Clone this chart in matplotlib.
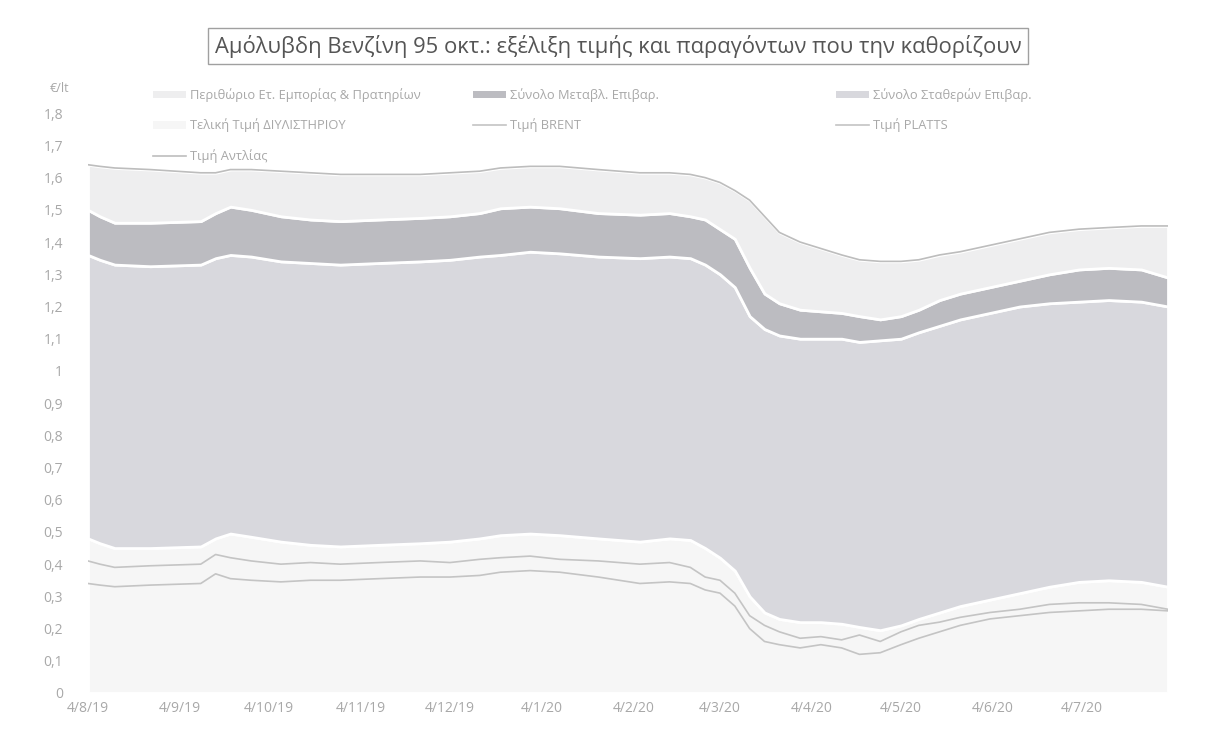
import matplotlib
matplotlib.use("Agg")
import matplotlib.pyplot as plt
from matplotlib.lines import Line2D
from matplotlib.patches import Patch
import numpy as np
import pandas as pd

# ---------------- data (€/lt) ----------------
dates = pd.to_datetime([
    "2019-08-04", "2019-08-08", "2019-08-13", "2019-08-25", "2019-09-11", "2019-09-16",
    "2019-09-21", "2019-09-28", "2019-10-08", "2019-10-18", "2019-10-28", "2019-11-10",
    "2019-11-24", "2019-12-04", "2019-12-14", "2019-12-21", "2019-12-31", "2020-01-10",
    "2020-01-23", "2020-02-06", "2020-02-16", "2020-02-23", "2020-02-28", "2020-03-04",
    "2020-03-09", "2020-03-14", "2020-03-19", "2020-03-24", "2020-03-31", "2020-04-07",
    "2020-04-14", "2020-04-20", "2020-04-27", "2020-05-04", "2020-05-10", "2020-05-17",
    "2020-05-24", "2020-06-03", "2020-06-13", "2020-06-23", "2020-07-03", "2020-07-13",
    "2020-07-24", "2020-08-02",
])

# Τιμή Αντλίας (pump price, top of the stack)
pump_price = [1.64, 1.635, 1.63, 1.625, 1.615, 1.615, 1.625, 1.625, 1.62, 1.615, 1.61, 1.61,
              1.61, 1.615, 1.62, 1.63, 1.635, 1.635, 1.625, 1.615, 1.615, 1.61, 1.60, 1.585,
              1.56, 1.53, 1.48, 1.43, 1.40, 1.38, 1.36, 1.345, 1.34, 1.34, 1.345, 1.36,
              1.37, 1.39, 1.41, 1.43, 1.44, 1.445, 1.45, 1.45]
# cumulative level up to Σύνολο Μεταβλ. Επιβαρ.
level_variable = [1.50, 1.48, 1.46, 1.46, 1.465, 1.49, 1.51, 1.50, 1.48, 1.47, 1.465, 1.47,
                  1.475, 1.48, 1.49, 1.505, 1.51, 1.505, 1.49, 1.485, 1.49, 1.48, 1.47, 1.44,
                  1.41, 1.32, 1.24, 1.21, 1.19, 1.185, 1.18, 1.17, 1.16, 1.17, 1.19, 1.22,
                  1.24, 1.26, 1.28, 1.30, 1.315, 1.32, 1.315, 1.29]
# cumulative level up to Σύνολο Σταθερών Επιβαρ.
level_fixed = [1.36, 1.345, 1.33, 1.325, 1.33, 1.35, 1.36, 1.355, 1.34, 1.335, 1.33, 1.335,
               1.34, 1.345, 1.355, 1.36, 1.37, 1.365, 1.355, 1.35, 1.355, 1.35, 1.33, 1.30,
               1.26, 1.17, 1.13, 1.11, 1.10, 1.10, 1.10, 1.09, 1.095, 1.10, 1.12, 1.14,
               1.16, 1.18, 1.20, 1.21, 1.215, 1.22, 1.215, 1.20]
# Τελική Τιμή ΔΙΥΛΙΣΤΗΡΙΟΥ (refinery price, bottom of the stack)
refinery_price = [0.48, 0.465, 0.45, 0.45, 0.455, 0.48, 0.495, 0.485, 0.47, 0.46, 0.455, 0.46,
                  0.465, 0.47, 0.48, 0.49, 0.495, 0.49, 0.48, 0.47, 0.48, 0.475, 0.45, 0.42,
                  0.38, 0.30, 0.25, 0.23, 0.22, 0.22, 0.215, 0.205, 0.195, 0.21, 0.23, 0.25,
                  0.27, 0.29, 0.31, 0.33, 0.345, 0.35, 0.345, 0.33]
platts_price = [0.41, 0.40, 0.39, 0.395, 0.40, 0.43, 0.42, 0.41, 0.40, 0.405, 0.40, 0.405,
                0.41, 0.405, 0.415, 0.42, 0.425, 0.415, 0.41, 0.40, 0.405, 0.39, 0.36, 0.35,
                0.31, 0.24, 0.21, 0.19, 0.17, 0.175, 0.165, 0.18, 0.16, 0.19, 0.21, 0.22,
                0.235, 0.25, 0.26, 0.275, 0.28, 0.28, 0.275, 0.26]
brent_price = [0.34, 0.335, 0.33, 0.335, 0.34, 0.37, 0.355, 0.35, 0.345, 0.35, 0.35, 0.355,
               0.36, 0.36, 0.365, 0.375, 0.38, 0.375, 0.36, 0.34, 0.345, 0.34, 0.32, 0.31,
               0.27, 0.20, 0.16, 0.15, 0.14, 0.15, 0.14, 0.12, 0.125, 0.15, 0.17, 0.19,
               0.21, 0.23, 0.24, 0.25, 0.255, 0.26, 0.26, 0.255]

title = "Αμόλυβδη Βενζίνη 95 οκτ.: εξέλιξη τιμής και παραγόντων που την καθορίζουν"
lbl_margin = "Περιθώριο Ετ. Εμπορίας & Πρατηρίων"
lbl_var = "Σύνολο Μεταβλ. Επιβαρ."
lbl_fixed = "Σύνολο Σταθερών Επιβαρ."
lbl_ref = "Τελική Τιμή ΔΙΥΛΙΣΤΗΡΙΟΥ"
lbl_brent = "Τιμή BRENT"
lbl_platts = "Τιμή PLATTS"
lbl_pump = "Τιμή Αντλίας"
y_ticks = [round(0.1 * i, 1) for i in range(19)]
tick_dates = pd.date_range("2019-08-01", "2020-07-01", freq="MS") + pd.Timedelta(days=3)

# ---------------- styling ----------------
plt.rcParams["font.family"] = ["Open Sans", "DejaVu Sans"]
C_MARGIN = "#eeeeef"
C_VAR = "#bcbcc1"
C_FIXED = "#d8d8dd"
C_REF = "#f6f6f6"
C_LINE = "#c4c4c4"
C_TXT = "#a8a8a8"

fig = plt.figure(figsize=(12.05, 7.36), dpi=100)
ax = fig.add_axes([88 / 1205, 1 - 693 / 736, (1168 - 88) / 1205, (693 - 81) / 736])

ref = np.array(refinery_price)
fixed = np.array(level_fixed) - ref
var = np.array(level_variable) - np.array(level_fixed)
margin = np.array(pump_price) - np.array(level_variable)

ax.stackplot(dates, ref, fixed, var, margin,
             colors=[C_REF, C_FIXED, C_VAR, C_MARGIN],
             edgecolor="white", linewidth=2.0)
ax.plot(dates, platts_price, color=C_LINE, lw=1.2)
ax.plot(dates, brent_price, color=C_LINE, lw=1.2)
ax.plot(dates, pump_price, color="#bdbdbd", lw=1.2)

ax.set_xlim(pd.Timestamp("2019-08-04"), pd.Timestamp("2020-08-02"))
ax.set_ylim(0, 1.9)
ax.set_yticks(y_ticks)
ax.set_yticklabels([("%g" % v).replace(".", ",") for v in y_ticks])
ax.set_xticks(tick_dates)
ax.set_xticklabels([f"{d.day}/{d.month}/{d.year % 100}" for d in tick_dates])
ax.tick_params(axis="both", length=0, labelsize=10, colors=C_TXT)
ax.tick_params(axis="y", pad=18)
ax.tick_params(axis="x", pad=6)
for s in ax.spines.values():
    s.set_visible(False)

fig.text(50 / 1205, 1 - 88 / 736, "€/lt", fontsize=9, color=C_TXT, va="center")

fig.text(618 / 1205, 1 - 46 / 736, title, fontsize=15.8, color="#555555",
         ha="center", va="center",
         bbox=dict(boxstyle="square,pad=0.3", fc="white", ec="#a0a0a0", lw=1))

# legends (three columns placed like the original)
cols = [
    ([Patch(fc=C_MARGIN, ec="none"), Patch(fc=C_REF, ec="none"),
      Line2D([], [], color="#bdbdbd", lw=1.2)], [lbl_margin, lbl_ref, lbl_pump], 160),
    ([Patch(fc=C_VAR, ec="none"), Line2D([], [], color=C_LINE, lw=1.2)],
     [lbl_var, lbl_brent], 480),
    ([Patch(fc=C_FIXED, ec="none"), Line2D([], [], color=C_LINE, lw=1.2)],
     [lbl_fixed, lbl_platts], 843),
]
for handles, labels, xpix in cols:
    leg = fig.legend(handles, labels, loc="upper left",
                     bbox_to_anchor=(xpix / 1205 - 0.006, 1 - 88 / 736),
                     frameon=False, fontsize=9.3, handlelength=2.6, handleheight=0.5,
                     handletextpad=0.3, labelspacing=1.3, borderaxespad=0, borderpad=0)
    for t in leg.get_texts():
        t.set_color(C_TXT)

fig.savefig("out.png", dpi=100, facecolor="white")
